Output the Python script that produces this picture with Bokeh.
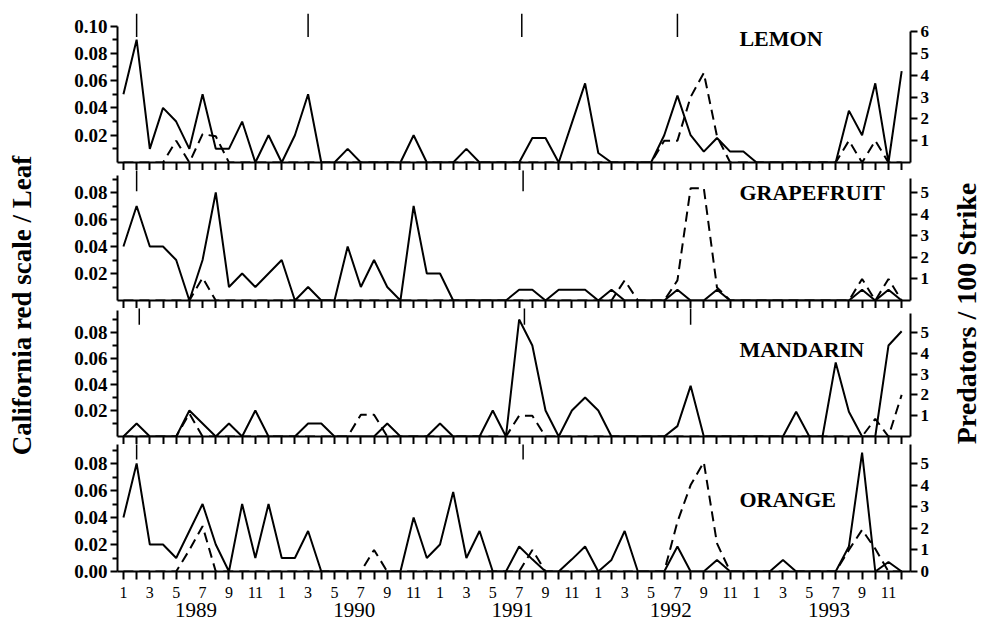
from math import pi
from bokeh.plotting import figure
from bokeh.models import Range1d, LinearAxis, FixedTicker, PrintfTickFormatter, Label
from bokeh.layouts import row, column
from bokeh.core.properties import value
from bokeh.embed import file_html
from bokeh.resources import INLINE

# ---------------- data ----------------
months = list(range(1, 61))                      # Jan 1989 .. Dec 1993
month_ticks_major = [m for m in months if m % 2 == 1]
month_ticks_minor = [m for m in months if m % 2 == 0]
month_tick_labels = {m: str((m - 1) % 12 + 1) for m in month_ticks_major}
year_positions = [6.5, 18.5, 30.5, 42.5, 54.5]
year_labels = ["1989", "1990", "1991", "1992", "1993"]

# California red scale / leaf (left axis)
lemon_scale = [0.05, 0.09, 0.01, 0.04, 0.03, 0.01, 0.05, 0.01, 0.01, 0.03,
               0.0, 0.02, 0.0, 0.02, 0.05, 0.0, 0.0, 0.01, 0.0, 0.0,
               0.0, 0.0, 0.02, 0.0, 0.0, 0.0, 0.01, 0.0, 0.0, 0.0,
               0.0, 0.018, 0.018, 0.0, 0.029, 0.058, 0.007, 0.0, 0.0, 0.0,
               0.0, 0.02, 0.049, 0.02, 0.008, 0.018, 0.008, 0.008, 0.0, 0.0,
               0.0, 0.0, 0.0, 0.0, 0.0, 0.038, 0.02, 0.058, 0.0, 0.067]
grapefruit_scale = [0.04, 0.07, 0.04, 0.04, 0.03, 0.0, 0.03, 0.08, 0.01, 0.02,
                    0.01, 0.02, 0.03, 0.0, 0.01, 0.0, 0.0, 0.04, 0.01, 0.03,
                    0.01, 0.0, 0.07, 0.02, 0.02, 0.0, 0.0, 0.0, 0.0, 0.0,
                    0.008, 0.008, 0.0, 0.008, 0.008, 0.008, 0.0, 0.008, 0.0, 0.0,
                    0.0, 0.0, 0.008, 0.0, 0.0, 0.008, 0.0, 0.0, 0.0, 0.0,
                    0.0, 0.0, 0.0, 0.0, 0.0, 0.0, 0.008, 0.0, 0.008, 0.0]
mandarin_scale = [0.0, 0.01, 0.0, 0.0, 0.0, 0.02, 0.01, 0.0, 0.01, 0.0,
                  0.02, 0.0, 0.0, 0.0, 0.01, 0.01, 0.0, 0.0, 0.0, 0.0,
                  0.01, 0.0, 0.0, 0.0, 0.01, 0.0, 0.0, 0.0, 0.02, 0.0,
                  0.09, 0.07, 0.02, 0.0, 0.02, 0.03, 0.02, 0.0, 0.0, 0.0,
                  0.0, 0.0, 0.008, 0.039, 0.0, 0.0, 0.0, 0.0, 0.0, 0.0,
                  0.0, 0.019, 0.0, 0.0, 0.057, 0.019, 0.0, 0.0, 0.07, 0.081]
orange_scale = [0.04, 0.08, 0.02, 0.02, 0.01, 0.03, 0.05, 0.02, 0.0, 0.05,
                0.01, 0.05, 0.01, 0.01, 0.03, 0.0, 0.0, 0.0, 0.0, 0.0,
                0.0, 0.0, 0.04, 0.01, 0.02, 0.059, 0.01, 0.03, 0.0, 0.0,
                0.0185, 0.009, 0.0, 0.0, 0.009, 0.0185, 0.0, 0.0086, 0.03, 0.0,
                0.0, 0.0, 0.0185, 0.0, 0.0, 0.0086, 0.0, 0.0, 0.0, 0.0,
                0.0086, 0.0, 0.0, 0.0, 0.0, 0.0185, 0.088, 0.0, 0.007, 0.0]

# Predators / 100 strike (right axis)
lemon_pred = [0, 0, 0, 0, 1.0, 0, 1.3, 1.2, 0, 0,
              0, 0, 0, 0, 0, 0, 0, 0, 0, 0,
              0, 0, 0, 0, 0, 0, 0, 0, 0, 0,
              0, 0, 0, 0, 0, 0, 0, 0, 0, 0,
              0, 1.0, 1.0, 3.0, 4.1, 1.2, 0, 0, 0, 0,
              0, 0, 0, 0, 0, 1.0, 0, 1.0, 0, 0]
grapefruit_pred = [0, 0, 0, 0, 0, 0, 1.05, 0, 0, 0,
                   0, 0, 0, 0, 0, 0, 0, 0, 0, 0,
                   0, 0, 0, 0, 0, 0, 0, 0, 0, 0,
                   0, 0, 0, 0, 0, 0, 0, 0, 0.93, 0,
                   0, 0, 0.93, 5.2, 5.2, 0.6, 0, 0, 0, 0,
                   0, 0, 0, 0, 0, 0, 1.0, 0, 1.0, 0]
mandarin_pred = [0, 0, 0, 0, 0, 1.1, 0, 0, 0, 0,
                 0, 0, 0, 0, 0, 0, 0, 0, 1.05, 1.05,
                 0, 0, 0, 0, 0, 0, 0, 0, 0, 0,
                 1.0, 1.0, 0, 0, 0, 0, 0, 0, 0, 0,
                 0, 0, 0, 0, 0, 0, 0, 0, 0, 0,
                 0, 0, 0, 0, 0, 0, 0, 0.85, 0, 2.0]
orange_pred = [0, 0, 0, 0, 0, 1.0, 2.1, 0, 0, 0,
               0, 0, 0, 0, 0, 0, 0, 0, 0, 1.0,
               0, 0, 0, 0, 0, 0, 0, 0, 0, 0,
               0, 1.0, 0, 0, 0, 0, 0, 0, 0, 0,
               0, 0, 2.3, 4.0, 5.06, 1.3, 0, 0, 0, 0,
               0, 0, 0, 0, 0, 1.0, 1.93, 1.05, 0, 0]

# release marks (month positions)
lemon_release = [2, 15, 31.2, 43]
grapefruit_release = [2, 31.3]
mandarin_release = [2.2, 31.4, 44]
orange_release = [2, 31.3]

crops = ["LEMON", "GRAPEFRUIT", "MANDARIN", "ORANGE"]

# ---------------- styling ----------------
SERIF = "Liberation Serif"
PRED_PER_SCALE = 62.5          # right axis units per left axis unit
FRAME_W = 793
TOTAL_H = 629


def style_axis(ax, tick_out=7):
    ax.axis_line_width = 2
    ax.axis_line_color = "black"
    ax.major_tick_line_width = 2
    ax.major_tick_line_color = "black"
    ax.minor_tick_line_width = 2
    ax.minor_tick_line_color = "black"
    ax.major_tick_in = 0
    ax.major_tick_out = tick_out
    ax.minor_tick_in = 0
    ax.minor_tick_out = 5
    ax.major_label_text_font = SERIF
    ax.major_label_text_color = "black"


def make_panel(name, scale, pred, release, cfg, last=False):
    left_end = cfg["left_end"]
    p = figure(frame_width=FRAME_W, frame_height=cfg["frame_h"],
               x_range=Range1d(0.55, 60.67), y_range=Range1d(0, left_end),
               x_axis_location=None, y_axis_location=None,
               toolbar_location=None, output_backend="svg",
               background_fill_color="white", border_fill_color="white")
    p.grid.visible = False
    p.min_border = 0
    p.min_border_left = 59
    p.min_border_right = 22
    p.min_border_top = cfg["top"]
    p.min_border_bottom = cfg.get("bottom", 0)
    p.outline_line_color = None
    p.extra_y_ranges = {"pred": Range1d(0, left_end * PRED_PER_SCALE)}

    # left axis
    la = LinearAxis(ticker=FixedTicker(ticks=cfg["lticks"], minor_ticks=cfg["lminor"]),
                    formatter=PrintfTickFormatter(format="%.2f"),
                    bounds=cfg["lbounds"])
    style_axis(la)
    la.major_label_text_font_style = "bold"
    la.major_label_text_font_size = "19px"
    la.major_label_standoff = 3
    p.add_layout(la, "left")

    # right axis
    ra = LinearAxis(y_range_name="pred", ticker=FixedTicker(ticks=cfg["rticks"], minor_ticks=[]),
                    bounds=cfg["rbounds"])
    style_axis(ra)
    ra.major_label_text_font_style = "bold"
    ra.major_label_text_font_size = "17px"
    ra.major_label_standoff = 3
    p.add_layout(ra, "right")

    # bottom axis (month ticks)
    if last:
        ba = LinearAxis(ticker=FixedTicker(ticks=month_ticks_major, minor_ticks=month_ticks_minor),
                        major_label_overrides=month_tick_labels)
        style_axis(ba, tick_out=8)
        ba.minor_tick_out = 8
        ba.major_label_text_font_size = "16px"
        ba.major_label_standoff = 7
        p.add_layout(ba, "below")
        ya = LinearAxis(ticker=FixedTicker(ticks=year_positions, minor_ticks=[]),
                        major_label_overrides=dict(zip(year_positions, year_labels)))
        ya.axis_line_color = None
        ya.major_tick_line_color = None
        ya.minor_tick_line_color = None
        ya.major_tick_out = 0
        ya.major_tick_in = 0
        ya.minor_tick_out = 0
        ya.minor_tick_in = 0
        ya.major_label_standoff = 2
        ya.major_label_text_font = SERIF
        ya.major_label_text_font_size = "21px"
        ya.major_label_text_color = "black"
        p.add_layout(ya, "below")
    else:
        ba = LinearAxis(ticker=FixedTicker(ticks=months, minor_ticks=[]))
        style_axis(ba, tick_out=8)
        ba.major_label_text_font_size = "0px"
        ba.major_label_text_color = None
        ba.major_label_standoff = 0
        p.add_layout(ba, "below")

    # data
    p.line(months, scale, line_color="black", line_width=2)
    p.line(months, pred, y_range_name="pred", line_color="black",
           line_width=2, line_dash="10 6")
    # release marks
    p.segment(x0=release, y0=[cfg["rel_bottom"]] * len(release),
              x1=release, y1=[cfg["rel_top"]] * len(release),
              line_color="black", line_width=1.5)

    p.add_layout(Label(x=47.7, y=cfg["label_y"], text=name, text_font=SERIF,
                       text_font_style="bold", text_font_size="22px",
                       text_baseline="middle", text_align="left", text_color="black"))
    return p


cfgs = [
    dict(frame_h=152, top=10, left_end=0.1114, lticks=[0.02, 0.04, 0.06, 0.08, 0.10],
         lminor=[0.01, 0.03, 0.05, 0.07, 0.09], lbounds=(0, 0.10),
         rticks=[1, 2, 3, 4, 5, 6], rbounds=(0, 6), rel_bottom=0.092, rel_top=0.109, label_y=0.0908),
    dict(frame_h=130, top=0, left_end=0.0963, lticks=[0.02, 0.04, 0.06, 0.08],
         lminor=[0.01, 0.03, 0.05, 0.07, 0.09], lbounds=(0, 0.0926),
         rticks=[1, 2, 3, 4, 5], rbounds=(0, 5.65), rel_bottom=0.081, rel_top=0.2, label_y=0.080),
    dict(frame_h=128, top=0, left_end=0.0985, lticks=[0.02, 0.04, 0.06, 0.08],
         lminor=[0.01, 0.03, 0.05, 0.07, 0.09], lbounds=(0, 0.097),
         rticks=[1, 2, 3, 4, 5], rbounds=(0, 5.9), rel_bottom=0.086, rel_top=0.2, label_y=0.067),
    dict(frame_h=127, top=0, bottom=56, left_end=0.0941, lticks=[0.0, 0.02, 0.04, 0.06, 0.08],
         lminor=[0.01, 0.03, 0.05, 0.07, 0.09], lbounds=(0, 0.0941),
         rticks=[0, 1, 2, 3, 4, 5], rbounds=(0, 5.88), rel_bottom=0.083, rel_top=0.2, label_y=0.053),
]

panels = [
    make_panel(crops[0], lemon_scale, lemon_pred, lemon_release, cfgs[0]),
    make_panel(crops[1], grapefruit_scale, grapefruit_pred, grapefruit_release, cfgs[1]),
    make_panel(crops[2], mandarin_scale, mandarin_pred, mandarin_release, cfgs[2]),
    make_panel(crops[3], orange_scale, orange_pred, orange_release, cfgs[3], last=True),
]


def title_fig(x0, x1, xc, yc, text, size):
    f = figure(width=x1 - x0, height=TOTAL_H, x_range=Range1d(x0, x1), y_range=Range1d(TOTAL_H, 0),
               x_axis_location=None, y_axis_location=None, toolbar_location=None,
               output_backend="svg", min_border=0, outline_line_color=None,
               background_fill_color="white", border_fill_color="white")
    f.grid.visible = False
    f.min_border_left = f.min_border_right = f.min_border_top = f.min_border_bottom = 0
    f.text(x=[xc], y=[yc], text=[text], angle=pi / 2, text_align="center",
           text_baseline="middle", text_font=value(SERIF), text_font_style="bold",
           text_font_size=size, text_color="black")
    return f


left_title = title_fig(0, 58, 21, 305, "California red scale / Leaf", "27px")
right_title = title_fig(932, 983, 966, 313, "Predators / 100 Strike", "28px")

layout = row(left_title, column(*panels, spacing=0), right_title, spacing=0)

open("out.html", "w").write(file_html(layout, INLINE))
